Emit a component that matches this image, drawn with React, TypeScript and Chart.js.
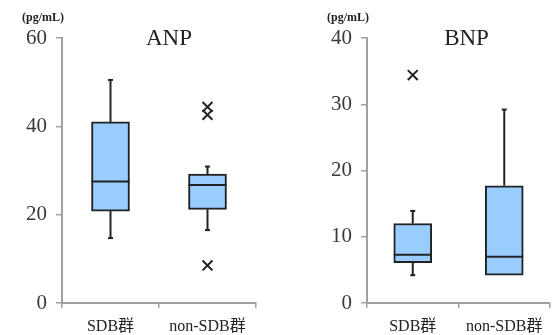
import React, { useEffect, useRef } from 'react';
import { Chart, registerables } from 'chart.js';
Chart.register(...registerables);

const categories = ['SDB群', 'non-SDB群'];

// ANP (pg/mL)
const anpQ1 = [20.8, 21.2];
const anpQ3 = [41.0, 29.2];
const anpMedian = [27.5, 26.7];
const anpLow = [14.7, 16.5];
const anpHigh = [50.5, 30.9];
const anpOutlierCats = ['non-SDB群', 'non-SDB群', 'non-SDB群'];
const anpOutlierVals = [44.4, 42.6, 8.5];
const anpTicks = [0, 20, 40, 60];

// BNP (pg/mL)
const bnpQ1 = [6.1, 4.2];
const bnpQ3 = [12.0, 17.7];
const bnpMedian = [7.3, 7.0];
const bnpLow = [4.2, 4.2];
const bnpHigh = [13.9, 29.2];
const bnpOutlierCats = ['SDB群'];
const bnpOutlierVals = [34.4];
const bnpTicks = [0, 10, 20, 30, 40];

const SERIF = '"Liberation Serif", "Times New Roman", "Noto Sans CJK JP", serif';
const AXIS = '#a0a0a0';
const INK = '#222222';

const boxPlugin = {
  id: 'boxExtras',
  beforeDatasetsDraw(chart: any, _a: any, opts: any) {
    const x = chart.scales.x, y = chart.scales.y;
    const ctx = chart.ctx;
    ctx.save();
    ctx.strokeStyle = INK;
    ctx.lineWidth = 2;
    opts.low.forEach((lo: number, i: number) => {
      const px = x.getPixelForValue(i);
      const segs = [[opts.q1[i], lo], [opts.q3[i], opts.high[i]]];
      segs.forEach(([a, b]) => {
        if (Math.abs(a - b) < 1e-9) return;
        ctx.beginPath();
        ctx.moveTo(px, y.getPixelForValue(a));
        ctx.lineTo(px, y.getPixelForValue(b));
        ctx.stroke();
        ctx.beginPath();
        ctx.moveTo(px - 2.5, y.getPixelForValue(b));
        ctx.lineTo(px + 2.5, y.getPixelForValue(b));
        ctx.stroke();
      });
    });
    ctx.restore();
  },
  afterDatasetsDraw(chart: any, _a: any, opts: any) {
    const x = chart.scales.x, y = chart.scales.y;
    const ctx = chart.ctx;
    const meta = chart.getDatasetMeta(0);
    ctx.save();
    ctx.strokeStyle = INK;
    ctx.lineWidth = 2;
    opts.median.forEach((m: number, i: number) => {
      const px = x.getPixelForValue(i);
      const w = meta.data[i].width;
      const py = y.getPixelForValue(m);
      ctx.beginPath();
      ctx.moveTo(px - w / 2, py);
      ctx.lineTo(px + w / 2, py);
      ctx.stroke();
    });
    ctx.restore();
  },
  afterDraw(chart: any, _a: any, opts: any) {
    const ctx = chart.ctx;
    const area = chart.chartArea;
    ctx.save();
    ctx.fillStyle = INK;
    ctx.textBaseline = 'alphabetic';
    ctx.textAlign = 'center';
    ctx.font = '23px ' + SERIF;
    ctx.fillText(opts.title, (area.left + area.right) / 2 + opts.titleShift, 45);
    ctx.textAlign = 'right';
    ctx.font = 'bold 12px ' + SERIF;
    ctx.fillText('(pg/mL)', area.left + 2, 21);
    ctx.restore();
  },
};

function makeConfig(p: any) {
  return {
    type: 'bar',
    data: {
      labels: categories,
      datasets: [
        {
          type: 'bar',
          data: p.q1.map((v: number, i: number) => [v, p.q3[i]]),
          backgroundColor: '#99ccff',
          borderColor: INK,
          borderWidth: 2,
          borderSkipped: false,
          barThickness: 38,
        },
        {
          type: 'line',
          data: p.outCats.map((c: string, i: number) => ({ x: c, y: p.outVals[i] })),
          showLine: false,
          pointStyle: 'crossRot',
          pointRadius: 7,
          pointBorderWidth: 2,
          borderColor: INK,
          backgroundColor: INK,
        },
      ],
    },
    options: {
      animation: false,
      responsive: false,
      events: [],
      layout: { padding: { top: 38, right: p.padRight, left: 0, bottom: 0 } },
      plugins: {
        legend: { display: false },
        tooltip: { enabled: false },
        title: { display: false },
        boxExtras: {
          q1: p.q1, q3: p.q3, median: p.median, low: p.low, high: p.high,
          title: p.title, titleShift: p.titleShift,
        },
      },
      scales: {
        x: {
          type: 'category',
          offset: true,
          grid: { display: true, offset: true, drawOnChartArea: false, drawTicks: true, tickLength: 5, color: AXIS, lineWidth: 1.5 },
          border: { display: true, color: AXIS, width: 2 },
          ticks: { font: { family: SERIF, size: 16 }, color: INK, padding: 9, maxRotation: 0 },
          afterFit: (s: any) => { s.height = 32; },
        },
        y: {
          min: 0,
          max: p.ticks[p.ticks.length - 1],
          afterBuildTicks: (s: any) => { s.ticks = p.ticks.map((v: number) => ({ value: v })); },
          grid: { display: true, drawOnChartArea: false, drawTicks: true, tickLength: 6, color: AXIS, lineWidth: 1.5 },
          border: { display: true, color: AXIS, width: 2 },
          ticks: { font: { family: SERIF, size: 21 }, color: '#3a3a3a', padding: 9 },
          afterFit: (s: any) => { s.width = p.axisX; },
        },
      },
    },
    plugins: [boxPlugin],
  };
}

function Panel(props: { p: any; left: number; width: number }) {
  const ref = useRef<HTMLCanvasElement | null>(null);
  useEffect(() => {
    const chart = new Chart(ref.current as HTMLCanvasElement, makeConfig(props.p) as any);
    return () => chart.destroy();
  }, []);
  return (
    <canvas
      ref={ref}
      width={props.width}
      height={335}
      style={{ position: 'absolute', left: props.left, top: 0, width: props.width, height: 335 }}
    />
  );
}

const anpPanel = {
  q1: anpQ1, q3: anpQ3, median: anpMedian, low: anpLow, high: anpHigh,
  outCats: anpOutlierCats, outVals: anpOutlierVals, ticks: anpTicks,
  title: 'ANP', titleShift: 10, axisX: 62, padRight: 24,
};
const bnpPanel = {
  q1: bnpQ1, q3: bnpQ3, median: bnpMedian, low: bnpLow, high: bnpHigh,
  outCats: bnpOutlierCats, outVals: bnpOutlierVals, ticks: bnpTicks,
  title: 'BNP', titleShift: 8, axisX: 87, padRight: 1,
};

export default function App() {
  return (
    <div style={{ position: 'fixed', left: 0, top: 0, width: 559, height: 335, background: '#ffffff' }}>
      <Panel p={anpPanel} left={0} width={280} />
      <Panel p={bnpPanel} left={280} width={279} />
    </div>
  );
}
